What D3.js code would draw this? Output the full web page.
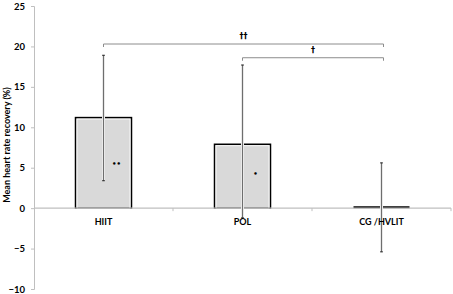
<!DOCTYPE html>
<html>
<head>
<meta charset="utf-8">
<script src="https://cdn.jsdelivr.net/npm/d3@7"></script>
<style>
  body { margin: 0; background: #fff; }
  text { font-family: Lato, "Open Sans", sans-serif; font-weight: bold; fill: #000; }
  text.sym { font-family: "DejaVu Sans", sans-serif; }
</style>
</head>
<body>
<div id="chart"></div>
<script>
var groups = ['HIIT', 'POL', 'CG /HVLIT']
var means = [11.2, 7.9, 0.1]
var errTop = [18.9, 17.7, 5.6]
var errBottom = [3.4, -1.2, -5.4]
var marks = ['••', '•', '']
var markValues = [5.6, 4.4, 0]
var yTicks = [-10, -5, 0, 5, 10, 15, 20, 25]

// significance brackets: from group, to group, height, label
var brackets = [
  {from: 'HIIT', to: 'CG /HVLIT', y: 20.3, label: '††'},
  {from: 'POL', to: 'CG /HVLIT', y: 18.6, label: '†'}
]

var width = 453, height = 294
var svg = d3.select('#chart').append('svg').attr('width', width).attr('height', height)

var x = d3.scaleBand().domain(groups).range([34, 451]).padding(0)
var y = d3.scaleLinear().domain([-10, 25]).range([289, 6])
var cx = d => x(d) + x.bandwidth()/2
var barW = 56

// y axis
var yAxis = svg.append('g').attr('transform', 'translate(34,0)')
  .call(d3.axisLeft(y).tickValues(yTicks).tickSize(3).tickPadding(6))
yAxis.selectAll('path, line').attr('stroke', '#bfbfbf')
yAxis.selectAll('text').style('font-size', '9.5px')

// bars
var data = groups.map((g, i) => ({g, mean: means[i], top: errTop[i], bottom: errBottom[i], mark: marks[i], mv: markValues[i]}))

var bars = svg.append('g').selectAll('g').data(data).join('g')
bars.filter(d => d.mean > 1).append('rect')
  .attr('x', d => cx(d.g) - barW/2)
  .attr('y', d => y(d.mean))
  .attr('width', barW)
  .attr('height', d => y(0) - y(d.mean))
  .attr('fill', '#d9d9d9')
  .attr('stroke', '#000')
  .attr('stroke-width', 1.5)
bars.filter(d => d.mean > 1).append('rect')
  .attr('x', d => cx(d.g) - barW/2 + 1.5)
  .attr('y', d => y(d.mean) + 1.5)
  .attr('width', barW - 3)
  .attr('height', d => y(0) - y(d.mean) - 1.5)
  .attr('fill', 'none')
  .attr('stroke', '#fff')
  .attr('stroke-width', 0.8)

// x axis
var xAxis = svg.append('g').attr('transform', 'translate(0,' + y(0) + ')')
xAxis.append('line').attr('x1', 34).attr('x2', 451).attr('stroke', '#bfbfbf').attr('stroke-width', 1.2)
xAxis.selectAll('line.tick').data(groups).join('line').attr('class', 'tick')
  .attr('x1', d => x(d) + x.bandwidth()).attr('x2', d => x(d) + x.bandwidth())
  .attr('y1', 0).attr('y2', 3).attr('stroke', '#bfbfbf')

// flat bar for near-zero group
bars.filter(d => d.mean <= 1).append('line')
  .attr('x1', d => cx(d.g) - barW/2).attr('x2', d => cx(d.g) + barW/2)
  .attr('y1', d => y(d.mean)).attr('y2', d => y(d.mean))
  .attr('stroke', '#000').attr('stroke-width', 2)

// error bars
var err = svg.append('g').selectAll('g').data(data).join('g')
err.append('line')
  .attr('x1', d => cx(d.g)).attr('x2', d => cx(d.g))
  .attr('y1', d => y(d.top)).attr('y2', d => y(d.bottom))
  .attr('stroke', '#fff').attr('stroke-width', 3)
err.append('line')
  .attr('x1', d => cx(d.g)).attr('x2', d => cx(d.g))
  .attr('y1', d => y(d.top)).attr('y2', d => y(d.bottom))
  .attr('stroke', '#6e6e6e').attr('stroke-width', 1.3)
err.selectAll('line.cap').data(d => [d.top, d.bottom].map(v => ({g: d.g, v}))).join('line')
  .attr('class', 'cap')
  .attr('x1', d => cx(d.g) - 1.3).attr('x2', d => cx(d.g) + 1.3)
  .attr('y1', d => y(d.v)).attr('y2', d => y(d.v))
  .attr('stroke', '#333').attr('stroke-width', 1.2)

// group labels
svg.append('g').selectAll('text').data(groups).join('text')
  .attr('x', cx).attr('y', y(0) + 17)
  .attr('text-anchor', 'middle')
  .style('font-size', '9px')
  .text(d => d)

// significance marks inside bars
svg.append('g').selectAll('text').data(data.filter(d => d.mark)).join('text')
  .attr('class', 'sym')
  .attr('x', d => cx(d.g) + 13).attr('y', d => y(d.mv) + 3)
  .attr('text-anchor', 'middle')
  .style('font-size', '7px')
  .text(d => d.mark)

// brackets
var br = svg.append('g').selectAll('g').data(brackets).join('g')
br.append('path')
  .attr('d', d => {
    var x1 = cx(d.from), x2 = cx(d.to) + 2, yy = y(d.y)
    return 'M' + x1 + ',' + (yy + 3) + 'V' + yy + 'H' + x2 + 'V' + (yy + 3)
  })
  .attr('fill', 'none').attr('stroke', '#8c8c8c').attr('stroke-width', 1)
br.append('text')
  .attr('class', 'sym')
  .attr('x', d => (cx(d.from) + cx(d.to)) / 2 + 1)
  .attr('y', d => y(d.y) - 5)
  .attr('text-anchor', 'middle')
  .style('font-size', '8px')
  .text(d => d.label)

// y label
svg.append('text')
  .attr('transform', 'translate(10,' + y(7.8) + ') rotate(-90)')
  .attr('text-anchor', 'middle')
  .style('font-size', '9px')
  .text('Mean heart rate recovery (%)')
</script>
</body>
</html>
